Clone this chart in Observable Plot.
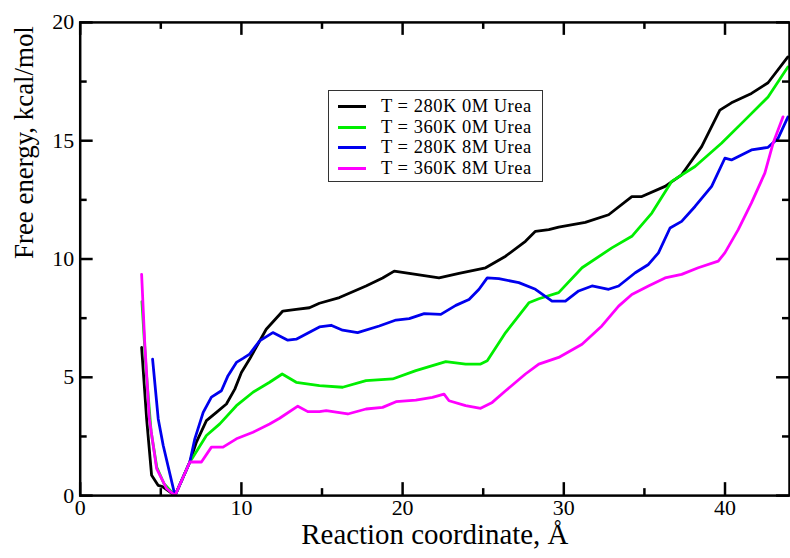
<!DOCTYPE html>
<html>
<head>
<meta charset="utf-8">
<script src="https://cdn.jsdelivr.net/npm/d3@7"></script>
<script src="https://cdn.jsdelivr.net/npm/@observablehq/plot@0.6"></script>
<style>
  html, body { margin: 0; padding: 0; background: white; overflow: hidden; }
  #wrap { position: relative; width: 790px; height: 558px; overflow: hidden; font-family: "Liberation Serif", serif; }
  #wrap svg { position: absolute; left: 0; top: 0; }
  #legend { position: absolute; left: 328px; top: 90px; width: 215px; height: 92px; box-sizing: border-box;
            border: 1px solid #333; background: white; }
  .row { position: absolute; left: 0; height: 20px; width: 100%; }
  .sw { position: absolute; left: 9px; width: 28px; height: 3px; top: 9px; }
  .lb { position: absolute; left: 52px; top: 0; font-size: 18.5px; line-height: 20px; white-space: nowrap; color: #000; letter-spacing: 0.5px; }
</style>
</head>
<body>
<div id="wrap"></div>
<script>
const seriesNames = ["T = 280K 0M Urea", "T = 360K 0M Urea", "T = 280K 8M Urea", "T = 360K 8M Urea"];
const seriesColors = ["#000000", "#00ee00", "#0000ee", "#ff00ff"];

const xBlack = [3.81, 4.12, 4.43, 4.84, 5.1, 5.88, 6.8, 7.21, 7.83, 8.45, 9.07, 9.59, 10.0, 10.51, 11.54, 12.57, 13.4, 14.22, 14.84, 16.08, 17.73, 18.76, 19.48, 20.82, 22.26, 23.5, 25.15, 26.39, 27.62, 28.24, 29.07, 29.68, 31.33, 32.78, 34.22, 34.84, 36.28, 37.31, 38.55, 39.68, 40.4, 41.64, 42.67, 43.9];
const yBlack = [6.26, 3.24, 0.86, 0.43, 0.38, 0, 1.42, 2.26, 3.17, 3.52, 3.87, 4.5, 5.2, 5.77, 7.03, 7.8, 7.87, 7.94, 8.13, 8.37, 8.86, 9.2, 9.49, 9.35, 9.2, 9.39, 9.63, 10.12, 10.75, 11.17, 11.24, 11.35, 11.55, 11.87, 12.64, 12.64, 13.07, 13.56, 14.75, 16.29, 16.6, 17.0, 17.45, 18.54];

const xGreen = [3.83, 4.1, 4.4, 4.75, 5.2, 5.88, 6.8, 7.0, 7.83, 8.66, 9.69, 10.72, 11.75, 12.53, 13.4, 14.84, 16.28, 17.73, 19.38, 20.82, 22.68, 23.91, 24.84, 25.25, 26.39, 27.83, 28.45, 29.68, 31.13, 32.98, 34.22, 35.46, 36.69, 38.14, 39.78, 41.23, 42.67, 43.9];
const yGreen = [8.2, 5.2, 2.7, 1.2, 0.5, 0, 1.42, 1.63, 2.54, 3.03, 3.8, 4.37, 4.79, 5.14, 4.79, 4.65, 4.58, 4.86, 4.93, 5.28, 5.66, 5.56, 5.56, 5.7, 6.89, 8.15, 8.32, 8.58, 9.63, 10.47, 10.96, 11.94, 13.28, 13.91, 14.89, 15.87, 16.85, 18.12];

const xBlue = [4.49, 4.84, 5.15, 5.88, 6.8, 7.11, 7.63, 8.14, 8.76, 9.17, 9.69, 10.1, 10.51, 11.13, 11.95, 12.88, 13.4, 14.84, 15.56, 16.28, 17.21, 18.55, 19.59, 20.41, 21.34, 22.37, 23.3, 24.12, 24.74, 25.25, 25.97, 27.21, 28.24, 29.27, 30.1, 30.92, 31.75, 32.78, 33.4, 34.43, 35.25, 35.87, 36.59, 37.31, 38.14, 39.17, 39.99, 40.4, 41.64, 42.67, 43.29, 43.9];
const yBlue = [5.77, 3.24, 2.12, 0, 1.42, 2.4, 3.52, 4.16, 4.43, 5.07, 5.63, 5.8, 5.98, 6.54, 6.89, 6.57, 6.61, 7.13, 7.2, 6.99, 6.89, 7.17, 7.42, 7.48, 7.69, 7.66, 8.04, 8.29, 8.72, 9.2, 9.17, 9.0, 8.72, 8.22, 8.22, 8.65, 8.86, 8.72, 8.86, 9.42, 9.77, 10.26, 11.31, 11.59, 12.22, 13.07, 14.26, 14.19, 14.61, 14.72, 15.1, 16.0];

const xMagenta = [3.81, 4.0, 4.29, 4.74, 5.36, 5.88, 6.8, 7.52, 8.14, 8.86, 9.69, 10.72, 11.75, 12.37, 13.5, 14.12, 14.84, 15.26, 16.6, 17.73, 18.76, 19.59, 20.82, 21.85, 22.57, 22.88, 23.91, 24.84, 25.56, 26.39, 27.62, 28.45, 29.68, 31.13, 32.36, 33.4, 34.22, 35.25, 36.28, 37.31, 38.34, 39.58, 39.99, 40.82, 41.64, 42.47, 42.98, 43.6];
const yMagenta = [9.35, 6.5, 3.24, 1.14, 0.3, 0, 1.42, 1.42, 2.05, 2.05, 2.4, 2.68, 3.03, 3.27, 3.78, 3.55, 3.55, 3.59, 3.45, 3.66, 3.73, 3.97, 4.04, 4.15, 4.29, 4.01, 3.8, 3.69, 3.94, 4.43, 5.14, 5.56, 5.84, 6.4, 7.17, 8.01, 8.5, 8.86, 9.2, 9.35, 9.63, 9.91, 10.26, 11.24, 12.37, 13.63, 14.89, 16.01];

const xMajor = [0, 10, 20, 30, 40];
const xMinor = [5, 15, 25, 35];
const yMajor = [0, 5, 10, 15, 20];
const yMinor = [2.5, 7.5, 12.5, 17.5];
const xTitle = "Reaction coordinate, Å";
const yTitle = "Free energy, kcal/mol";

const seriesX = [xBlack, xGreen, xBlue, xMagenta];
const seriesY = [yBlack, yGreen, yBlue, yMagenta];
const rows = [];
seriesNames.forEach((name, i) => {
  seriesX[i].forEach((x, j) => rows.push({series: name, x, y: seriesY[i][j]}));
});

// SVG is slightly wider than the window so the right frame edge falls just outside, as in the reference
const W = 793, H = 558, mL = 80, mR = 1, mT = 22, mB = 61;
const plotW = W - mL - mR, plotH = H - mT - mB;
const tickBig = 13, tickSmall = 7, axisW = 2.5;

const chart = Plot.plot({
  width: W, height: H,
  marginLeft: mL, marginRight: mR, marginTop: mT, marginBottom: mB,
  x: {domain: [0, 44], axis: null},
  y: {domain: [0, 20], axis: null},
  color: {domain: seriesNames, range: seriesColors},
  style: {fontFamily: "Liberation Serif, serif", background: "white", color: "black", overflow: "visible"},
  marks: [
    Plot.line(rows, {x: "x", y: "y", z: "series", stroke: "series", strokeWidth: 2.8, clip: true, strokeLinejoin: "round"}),
    Plot.ruleX(xMajor, {x: d => d, insetTop: plotH - tickBig, strokeWidth: axisW}),
    Plot.ruleX(xMajor, {x: d => d, insetBottom: plotH - tickBig, strokeWidth: axisW}),
    Plot.ruleX(xMinor, {x: d => d, insetTop: plotH - tickSmall, strokeWidth: axisW}),
    Plot.ruleX(xMinor, {x: d => d, insetBottom: plotH - tickSmall, strokeWidth: axisW}),
    Plot.ruleY(yMajor, {y: d => d, insetRight: plotW - tickBig, strokeWidth: axisW}),
    Plot.ruleY(yMajor, {y: d => d, insetLeft: plotW - tickBig, strokeWidth: axisW}),
    Plot.ruleY(yMinor, {y: d => d, insetRight: plotW - tickSmall, strokeWidth: axisW}),
    Plot.ruleY(yMinor, {y: d => d, insetLeft: plotW - tickSmall, strokeWidth: axisW}),
    Plot.frame({strokeWidth: axisW}),
    Plot.text(xMajor, {x: d => d, text: d => String(d), frameAnchor: "bottom", dy: 19, fontSize: 22, fontFamily: "Liberation Serif"}),
    Plot.text(yMajor, {y: d => d, text: d => String(d), frameAnchor: "left", textAnchor: "end", dx: -6, fontSize: 22, fontFamily: "Liberation Serif"}),
    Plot.text([xTitle], {text: d => d, frameAnchor: "bottom", dy: 49, fontSize: 29, fontFamily: "Liberation Serif"}),
    Plot.text([yTitle], {text: d => d, frameAnchor: "left", dx: -56, rotate: -90, fontSize: 27, fontFamily: "Liberation Serif"})
  ]
});

const wrap = document.getElementById("wrap");
wrap.appendChild(chart);

const legend = document.createElement("div");
legend.id = "legend";
seriesNames.forEach((name, i) => {
  const row = document.createElement("div");
  row.className = "row";
  row.style.top = (5 + i * 20.7) + "px";
  const sw = document.createElement("div");
  sw.className = "sw";
  sw.style.background = seriesColors[i];
  const lb = document.createElement("span");
  lb.className = "lb";
  lb.textContent = name;
  row.appendChild(sw);
  row.appendChild(lb);
  legend.appendChild(row);
});
wrap.appendChild(legend);
</script>
</body>
</html>
